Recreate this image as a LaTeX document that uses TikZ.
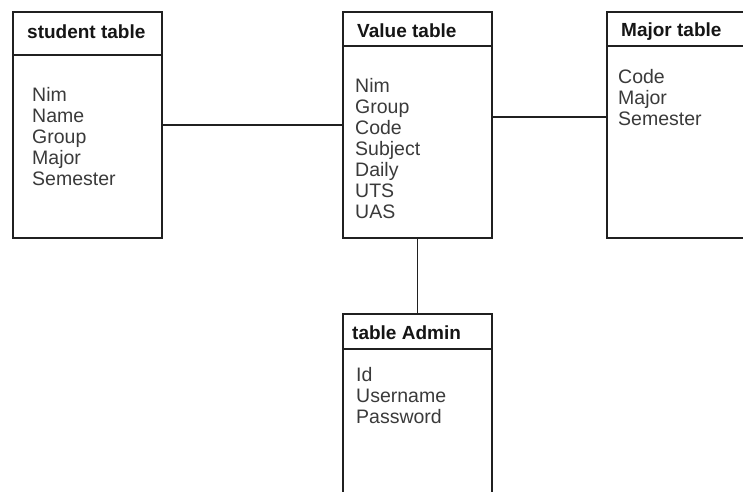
\documentclass[tikz,border=0pt]{standalone}
\usepackage{fontspec}
\setmainfont{Liberation Sans}
\usepackage{tikz}
\usetikzlibrary{positioning}

\definecolor{linecol}{HTML}{202020}
\definecolor{fieldcol}{HTML}{3A3A3A}
\definecolor{titlecol}{HTML}{151515}

\begin{document}
\begin{tikzpicture}[x=1pt, y=-1pt,
  box/.style={draw=linecol, line width=1.6pt, anchor=north west, inner sep=0pt, minimum width=149pt},
  title/.style={font=\fontsize{19}{21}\selectfont\bfseries, text=titlecol, anchor=west, inner sep=0pt},
  field/.style={font=\fontsize{19.5}{21}\selectfont, text=fieldcol, anchor=base west, inner sep=0pt},
  link/.style={draw=linecol, line width=1.6pt}]

\useasboundingbox (0,0) rectangle (743,491);
\clip (0,0) rectangle (743,491);

% student table
\node[box, minimum height=43pt] (studenthead) at (12,11) {};
\node[box, minimum height=183pt] (studentbody) at (12,54) {};
\node[title] (studenttitle) at (27,32) {student table};
\foreach \f [count=\i] in {Nim,Name,Group,Major,Semester}
  \node[field] (student-\i) at (32,80+21*\i) {\f};

% value table
\node[box, minimum height=34pt] (valuehead) at (342,11) {};
\node[box, minimum height=192pt] (valuebody) at (342,45) {};
\node[title] (valuetitle) at (357,31) {Value table};
\foreach \f [count=\i] in {Nim,Group,Code,Subject,Daily,UTS,UAS}
  \node[field] (value-\i) at (355,71+21*\i) {\f};

% major table
\node[box, minimum height=34pt] (majorhead) at (606,11) {};
\node[box, minimum height=192pt] (majorbody) at (606,45) {};
\node[title] (majortitle) at (621,32) {Major table};
\foreach \f [count=\i] in {Code,Major,Semester}
  \node[field] (major-\i) at (618,62+21*\i) {\f};

% admin table
\node[box, minimum height=35pt] (adminhead) at (342,313) {};
\node[box, minimum height=200pt] (adminbody) at (342,348) {};
\node[title] (admintitle) at (352,333) {table Admin};
\foreach \f [count=\i] in {Id,Username,Password}
  \node[field] (admin-\i) at (356,360+21*\i) {\f};

% relations
\draw[link] ([yshift=21.5pt]studentbody.east) -- ([yshift=21.5pt]studentbody.east -| valuebody.west);
\draw[link] ([yshift=25pt]valuebody.east) -- ([yshift=25pt]valuebody.east -| majorbody.west);
\draw[link] (valuebody.south) -- (adminhead.north);

\end{tikzpicture}
\end{document}
